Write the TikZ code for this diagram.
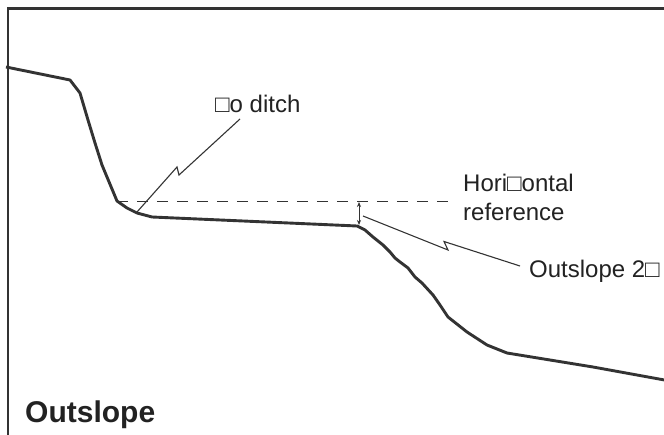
\documentclass[tikz,border=0pt]{standalone}
\usepackage{fontspec}
\setmainfont{Liberation Sans}
\usetikzlibrary{arrows.meta}
\definecolor{ink}{HTML}{333333}
\definecolor{txt}{HTML}{222222}
\begin{document}
\begin{tikzpicture}[x=1pt,y=-1pt,
  frame/.style={draw=ink,line width=2.4pt},
  ground/.style={draw=ink,line width=2.9pt,line join=round},
  leader/.style={draw=ink,line width=1.1pt},
  refline/.style={draw=ink,line width=1.1pt,dash pattern=on 11pt off 9pt},
  lab/.style={font=\fontsize{24}{29}\selectfont,text=txt,inner sep=0pt,anchor=base west,align=left},
  titlelab/.style={font=\fontsize{30}{36}\selectfont\bfseries,text=txt,inner sep=0pt,anchor=base west}]
\useasboundingbox (0,0) rectangle (664,435);
\fill[white] (0,0) rectangle (664,435);
\draw[frame] (8,440) -- (8,8.5) -- (670,8.5);
\draw[ground] (6,67) -- (70,80) -- (80,93) -- (88,120) -- (95,143) -- (102,165) -- (117,201) -- (127,208) -- (137,213) -- (152,217) -- (357,226) -- (365,230) -- (373,237) -- (383,245) -- (390,252) -- (395,258) -- (400,262) -- (408,268) -- (415,277) -- (422,283) -- (433,295) -- (440,305) -- (448,317) -- (467,332) -- (487,345) -- (507,353) -- (593,367) -- (670,381);
\coordinate (ditchfoot) at (117,201.5);
\coordinate (refend) at (448,201.5);
\draw[refline] (ditchfoot) -- (refend);
\coordinate (arrtop) at (359,202);
\coordinate (arrbot) at (359,225);
\draw[leader,line width=0.8pt,{Stealth[length=5pt,width=4pt]}-{Stealth[length=5pt,width=4pt]}] (arrtop) -- (arrbot);
\node[lab] (noditch) at (215,113) {□o ditch};
\coordinate (nd0) at (137,212);
\coordinate (ndz1) at (177,167);
\coordinate (ndz2) at (179,175);
\coordinate (nd1) at (240,119);
\draw[leader] (nd0) -- (ndz1) -- (ndz2) -- (nd1);
\node[lab] (horiz) at (463,221) {Hori□ontal\\reference};
\node[lab] (outsl) at (529,278) {Outslope 2□};
\coordinate (os0) at (363,216);
\coordinate (osz1) at (448,250);
\coordinate (osz2) at (444,241.5);
\coordinate (os1) at (520,266);
\draw[leader] (os0) -- (osz1) -- (osz2) -- (os1);
\node[titlelab] (title) at (25,422) {Outslope};
\end{tikzpicture}
\end{document}
